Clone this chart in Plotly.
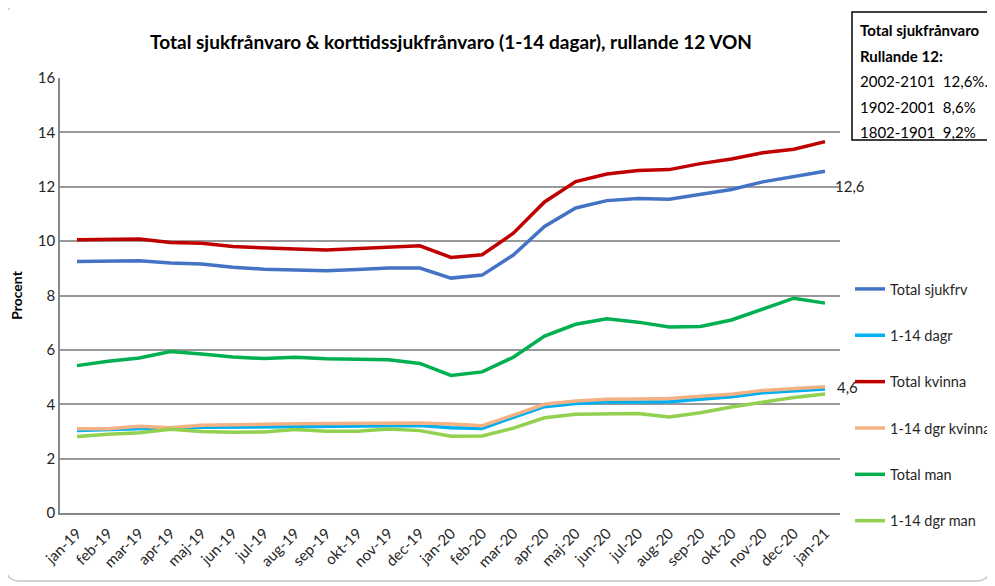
import plotly.graph_objects as go

# months on the category axis
months = ['jan-19', 'feb-19', 'mar-19', 'apr-19', 'maj-19', 'jun-19', 'jul-19', 'aug-19',
          'sep-19', 'okt-19', 'nov-19', 'dec-19', 'jan-20', 'feb-20', 'mar-20', 'apr-20',
          'maj-20', 'jun-20', 'jul-20', 'aug-20', 'sep-20', 'okt-20', 'nov-20', 'dec-20', 'jan-21']

total_sjukfrv = [9.25, 9.25, 9.28, 9.2, 9.16, 9.04, 8.97, 8.94, 8.91, 8.96, 9.01, 9.01, 8.64,
                 8.75, 9.49, 10.54, 11.22, 11.49, 11.57, 11.54, 11.73, 11.9, 12.18, 12.36, 12.57]
dagr_1_14 = [3.03, 3.07, 3.12, 3.14, 3.15, 3.16, 3.17, 3.2, 3.2, 3.23, 3.23, 3.22, 3.14,
             3.11, 3.52, 3.91, 4.03, 4.08, 4.08, 4.09, 4.18, 4.28, 4.42, 4.49, 4.56]
total_kvinna = [10.05, 10.05, 10.08, 9.95, 9.92, 9.8, 9.74, 9.71, 9.67, 9.73, 9.77, 9.83, 9.4,
                9.5, 10.29, 11.44, 12.19, 12.47, 12.6, 12.63, 12.85, 13.02, 13.25, 13.38, 13.66]
dgr_kvinna = [3.1, 3.1, 3.19, 3.14, 3.23, 3.26, 3.26, 3.28, 3.28, 3.31, 3.31, 3.31, 3.27,
              3.21, 3.6, 4.0, 4.12, 4.18, 4.19, 4.21, 4.29, 4.37, 4.51, 4.57, 4.64]
total_man = [5.42, 5.58, 5.7, 5.94, 5.85, 5.74, 5.68, 5.73, 5.67, 5.64, 5.64, 5.5, 5.06,
             5.19, 5.73, 6.51, 6.94, 7.14, 7.02, 6.84, 6.86, 7.1, 7.5, 7.9, 7.72]
dgr_man = [2.81, 2.9, 2.95, 3.08, 3.0, 2.97, 2.98, 3.07, 3.01, 3.01, 3.09, 3.03, 2.82,
           2.83, 3.12, 3.5, 3.63, 3.66, 3.66, 3.53, 3.69, 3.9, 4.08, 4.25, 4.38]

series = [
    ('Total sjukfrv', total_sjukfrv, '#4472C4'),
    ('1-14 dagr', dagr_1_14, '#00B0F0'),
    ('Total kvinna', total_kvinna, '#C00000'),
    ('1-14 dgr kvinna', dgr_kvinna, '#F4B183'),
    ('Total man', total_man, '#00B050'),
    ('1-14 dgr man', dgr_man, '#92D050'),
]

box_lines = ['<b>Total sjukfrånvaro</b>', '<b>Rullande 12:</b>',
             '2002-2101  12,6%.', '1902-2001  8,6%', '1802-1901  9,2%']

FONT = 'Lato, Open Sans, sans-serif'
TXT = '#262626'

# page has an 8px body margin, so the figure is drawn 8px smaller and everything
# below is given in page pixels
OFF = 8
PL, PT, PW, PH = 60, 78, 780, 435   # plot area in page pixels


def px_x(p):
    return (p - PL) / PW


def px_y(p):
    return (PT + PH - p) / PH


fig = go.Figure()
for i, (name, vals, col) in enumerate(series):
    fig.add_trace(go.Scatter(x=months, y=vals, name=name, mode='lines',
                             line=dict(color=col, width=3.5), legendgroup=str(i)))

# data labels on last points
fig.add_annotation(x=months[-1], y=total_sjukfrv[-1], text=f'{total_sjukfrv[-1]:.1f}'.replace('.', ','),
                   showarrow=False, xanchor='left', xshift=8, yshift=-15,
                   font=dict(size=15, color=TXT, family=FONT))
fig.add_annotation(x=months[-1], y=dagr_1_14[-1], text=f'{dagr_1_14[-1]:.1f}'.replace('.', ','),
                   showarrow=False, xanchor='left', xshift=10, yshift=2,
                   font=dict(size=15, color=TXT, family=FONT))

# info box top right
fig.add_shape(type='rect', xref='paper', yref='paper', x0=px_x(852), x1=px_x(1000),
              y0=px_y(140), y1=px_y(12), line=dict(color='black', width=1.5),
              fillcolor='white', layer='above')
for k, t in enumerate(box_lines):
    fig.add_annotation(xref='paper', yref='paper', x=px_x(858), y=px_y(30 + 25.5 * k),
                       text=t, showarrow=False, xanchor='left', yanchor='middle',
                       font=dict(size=15, color='black', family=FONT))

# outer rounded frame
r = 14
l, t_, rr, b = 6, 4, 990, 581
path = (f'M {px_x(l + r)},{px_y(t_)} L {px_x(rr - r)},{px_y(t_)} '
        f'Q {px_x(rr)},{px_y(t_)} {px_x(rr)},{px_y(t_ + r)} '
        f'L {px_x(rr)},{px_y(b - r)} Q {px_x(rr)},{px_y(b)} {px_x(rr - r)},{px_y(b)} '
        f'L {px_x(l + r)},{px_y(b)} Q {px_x(l)},{px_y(b)} {px_x(l)},{px_y(b - r)} '
        f'L {px_x(l)},{px_y(t_ + r)} Q {px_x(l)},{px_y(t_)} {px_x(l + r)},{px_y(t_)} Z')
fig.add_shape(type='path', xref='paper', yref='paper', path=path,
              line=dict(color='#C8C8C8', width=1.5), layer='below')

W, H = 995 - OFF, 586 - OFF
fig.update_layout(
    width=W, height=H,
    margin=dict(l=PL - OFF, r=W - (PL - OFF) - PW, t=PT - OFF, b=H - (PT - OFF) - PH,
                autoexpand=False),
    paper_bgcolor='white', plot_bgcolor='white',
    font=dict(family=FONT, color=TXT, size=14),
    title=dict(text='<b>Total sjukfrånvaro & korttidssjukfrånvaro (1-14 dagar), rullande 12 VON</b>',
               x=px_x(451), xanchor='center', xref='paper', y=1 - (42 - OFF) / H, yanchor='middle',
               font=dict(size=19, color='black', family=FONT)),
    legend=dict(x=px_x(850), y=px_y(273), xanchor='left', yanchor='top',
                font=dict(size=14.5, color=TXT, family=FONT), tracegroupgap=24.5,
                itemwidth=30, bgcolor='rgba(0,0,0,0)'),
    showlegend=True,
)
fig.update_xaxes(type='category', range=[-0.545, 24.48], tickangle=-45, automargin=False,
                 showline=True, linecolor='#868686', linewidth=1.5, showgrid=False,
                 tickfont=dict(size=15, color=TXT, family=FONT), ticks='', ticklabelstandoff=4)
fig.update_yaxes(range=[0, 16], dtick=2, showgrid=True, gridcolor='#999999', gridwidth=1.5,
                 showline=True, linecolor='#868686', linewidth=1.5, zeroline=False, automargin=False,
                 tickfont=dict(size=15, color=TXT, family=FONT), ticks='', ticklen=0,
                 title=dict(text='<b>Procent</b>', font=dict(size=14, color='black', family=FONT),
                            standoff=14))

fig.write_html('out.html')
